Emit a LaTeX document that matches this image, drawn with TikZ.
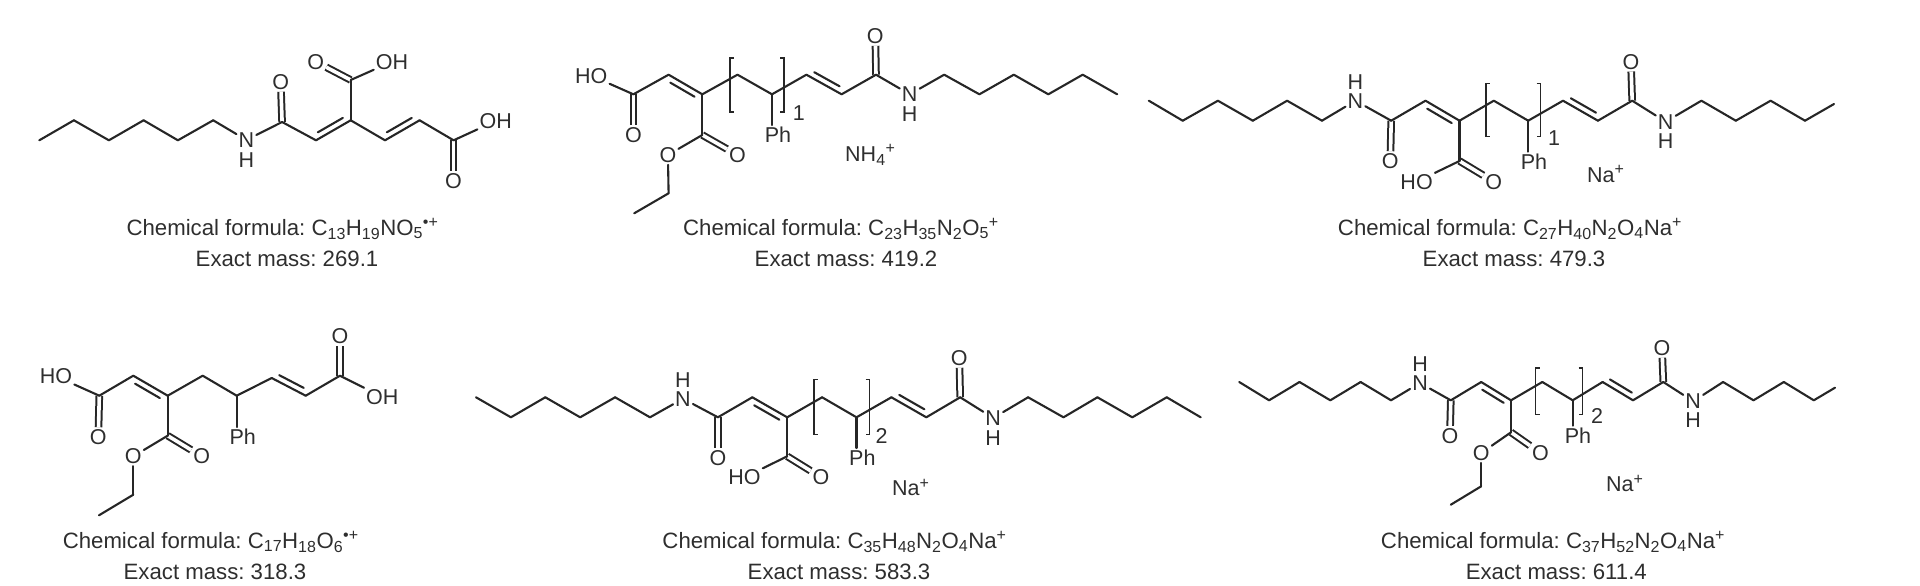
\documentclass[tikz,border=0pt]{standalone}
\usepackage{fontspec}
\setmainfont{Liberation Sans}
\usetikzlibrary{calc}
\frenchspacing
\definecolor{inkline}{HTML}{262626}
\definecolor{inktext}{HTML}{2E2E2E}
\tikzstyle{bond} = [line width=2.1pt, draw=inkline, line cap=round, line join=round]
\tikzstyle{carbonyl} = [line width=2pt, draw=inkline, double=white, double distance=3.6pt]
\tikzstyle{bracket} = [line width=1.5pt, draw=inkline]
\tikzstyle{atom} = [inner sep=2pt, text=inktext, font=\fontsize{21.5}{24}\selectfont]
\tikzstyle{caption} = [inner sep=0pt, anchor=base, text=inktext, font=\fontsize{22.2}{24}\selectfont]
\newcommand{\subnum}[1]{\textsubscript{\fontsize{16}{18}\selectfont #1}}
\newcommand{\supchg}[1]{\textsuperscript{\fontsize{16}{18}\selectfont #1}}
\newcommand{\ccbond}[3]{%
  \draw[bond] (#1) -- (#2);
  \draw[bond] ($(#1)!.14!(#2)!6pt!#3:(#2)$) -- ($(#2)!.14!(#1)!6pt!-#3:(#1)$);}
\newcommand{\unitbrackets}[4]{%
  \draw[bracket] (#1+4,#3) -- (#1,#3) -- (#1,#4) -- (#1+4,#4);
  \draw[bracket] (#2-4,#3) -- (#2,#3) -- (#2,#4) -- (#2-4,#4);}
\begin{document}
\begin{tikzpicture}[x=1pt,y=-1pt,node distance=20pt]
\useasboundingbox (0,0) rectangle (1920,586);

% top left
\path (39.3,140.3) coordinate (A1) (73.9,120.3) coordinate (A2) (108.9,140.3) coordinate (A3)
  (143.6,120.3) coordinate (A4) (177.9,140.3) coordinate (A5) (213.2,120.3) coordinate (A6)
  (282.1,122) coordinate (A7) (316,140.3) coordinate (A8) (350.7,120.3) coordinate (A9)
  (350.7,80) coordinate (A10) (385,140.3) coordinate (A11) (419.6,120.3) coordinate (A12)
  (453.6,140.3) coordinate (A13);
\node [atom] (AN) at (246.4,140) {N};
\node [atom, below of=AN] (AH) {H};
\node [atom] (AO1) at (280.7,82) {O};
\node [atom] (AO2) at (315.7,61.7) {O};
\node [atom] (AOH1) at (392,61.7) {OH};
\node [atom] (AOH2) at (495.7,121) {OH};
\node [atom] (AO3) at (453.6,181) {O};
\foreach \a/\b in {A7/AO1,A10/AO2,A13/AO3} \draw[carbonyl] (\a) -- (\b);
\foreach \a/\b in {A1/A2,A2/A3,A3/A4,A4/A5,A5/A6,A6/AN,AN/A7,A7/A8,A9/A10,A10/AOH1,A9/A11,A12/A13,A13/AOH2}
  \draw[bond] (\a) -- (\b);
\ccbond{A8}{A9}{90}
\ccbond{A11}{A12}{90}
\node [caption] (Af) at (282.5,235) {Chemical formula: C\subnum{13}H\subnum{19}NO\subnum{5}\supchg{\textbullet+}};
\node [caption] (Am) at (287,266.7) {Exact mass: 269.1};

% top middle
\path (633.4,94.3) coordinate (B1) (668.6,74.7) coordinate (B2) (702.3,94.3) coordinate (B3)
  (702.3,135) coordinate (B4) (668.6,193.3) coordinate (B5) (634.2,213.3) coordinate (B6)
  (737.5,74.7) coordinate (B7) (772,94.3) coordinate (B8) (806.4,74.7) coordinate (B9)
  (841.6,94.3) coordinate (B10) (876,74.7) coordinate (B11) (944.2,74.7) coordinate (B12)
  (979.4,94.3) coordinate (B13) (1013.8,74.7) coordinate (B14) (1048.3,94.3) coordinate (B15)
  (1082.7,74.7) coordinate (B16) (1117.2,94.3) coordinate (B17);
\node [atom] (BHO) at (591.3,75.7) {HO};
\node [atom] (BO1) at (633.4,135) {O};
\node [atom] (BO2) at (737.5,155) {O};
\node [atom] (BO3) at (667.9,155) {O};
\node [atom] (BPh) at (778,135) {Ph};
\node [atom] (BO4) at (875.3,36) {O};
\node [atom] (BN) at (909.7,94.3) {N};
\node [atom, below of=BN] (BH) {H};
\node [atom] (Bn) at (798.8,113) {1};
\node [atom, anchor=west] (Bion) at (843,155) {NH\subnum{4}\supchg{+}};
\foreach \a/\b in {B1/BO1,B4/BO2,B11/BO4} \draw[carbonyl] (\a) -- (\b);
\foreach \a/\b in {BHO/B1,B1/B2,B3/B4,B4/BO3,BO3/B5,B5/B6,B3/B7,B7/B8,B8/B9,B10/B11,B11/BN,BN/B12,B12/B13,B13/B14,B14/B15,B15/B16,B16/B17}
  \draw[bond] (\a) -- (\b);
\draw[bond] (B8) -- (B8 |- BPh.north);
\ccbond{B2}{B3}{-90}
\ccbond{B9}{B10}{90}
\unitbrackets{729.9}{784.2}{58}{112}
\node [caption] (Bf) at (841,235) {Chemical formula: C\subnum{23}H\subnum{35}N\subnum{2}O\subnum{5}\supchg{+}};
\node [caption] (Bm) at (846,266.7) {Exact mass: 419.2};

% top right
\path (1148.8,100.7) coordinate (C1) (1182.7,120.7) coordinate (C2) (1217.9,100.7) coordinate (C3)
  (1252.8,120.7) coordinate (C4) (1287.1,100.7) coordinate (C5) (1322,120.7) coordinate (C6)
  (1391.2,120.7) coordinate (C7) (1425.5,100.7) coordinate (C8) (1459.5,120.7) coordinate (C9)
  (1459.5,161) coordinate (C10) (1493.8,100.7) coordinate (C11) (1528.2,120.7) coordinate (C12)
  (1563,100.7) coordinate (C13) (1597.9,120.7) coordinate (C14) (1632.2,100.7) coordinate (C15)
  (1701.4,100.7) coordinate (C16) (1735.8,120.7) coordinate (C17) (1770.6,100.7) coordinate (C18)
  (1805,120.7) coordinate (C19) (1834,104) coordinate (C20);
\node [atom] (CN1) at (1355.4,100.7) {N};
\node [atom, node distance=19pt, above of=CN1] (CH1) {H};
\node [atom] (CO1) at (1390.3,161) {O};
\node [atom] (CO2) at (1493.8,181.7) {O};
\node [atom] (CHO) at (1416.6,181.7) {HO};
\node [atom] (CPh) at (1534,161.7) {Ph};
\node [atom] (CO3) at (1630.9,61.7) {O};
\node [atom] (CN2) at (1665.7,121.7) {N};
\node [atom, node distance=19pt, below of=CN2] (CH2) {H};
\node [atom] (Cn) at (1554,138) {1};
\node [atom, anchor=west] (Cion) at (1585,174) {Na\supchg{+}};
\foreach \a/\b in {C7/CO1,C10/CO2,C15/CO3} \draw[carbonyl] (\a) -- (\b);
\foreach \a/\b in {C1/C2,C2/C3,C3/C4,C4/C5,C5/C6,C6/CN1,CN1/C7,C7/C8,C9/C10,C10/CHO,C9/C11,C11/C12,C12/C13,C14/C15,C15/CN2,CN2/C16,C16/C17,C17/C18,C18/C19,C19/C20}
  \draw[bond] (\a) -- (\b);
\draw[bond] (C12) -- (C12 |- CPh.north);
\ccbond{C8}{C9}{-90}
\ccbond{C13}{C14}{90}
\unitbrackets{1485.8}{1540.7}{83.3}{136.7}
\node [caption] (Cf) at (1510,235) {Chemical formula: C\subnum{27}H\subnum{40}N\subnum{2}O\subnum{4}Na\supchg{+}};
\node [caption] (Cm) at (1514,266.7) {Exact mass: 479.3};

% bottom left
\path (99.3,395.7) coordinate (D1) (133.3,375.7) coordinate (D2) (167.7,395.7) coordinate (D3)
  (167.7,435.7) coordinate (D4) (133.3,494.7) coordinate (D5) (99,515.3) coordinate (D6)
  (202.7,375.7) coordinate (D7) (236.7,395.7) coordinate (D8) (271.7,378) coordinate (D9)
  (305.7,395.7) coordinate (D10) (340,375.7) coordinate (D11);
\node [atom] (DHO) at (56,376.3) {HO};
\node [atom] (DO1) at (98.3,437) {O};
\node [atom] (DO2) at (201.7,456.3) {O};
\node [atom] (DO3) at (133.3,456.3) {O};
\node [atom] (DPh) at (242.7,437) {Ph};
\node [atom] (DO4) at (340,336.3) {O};
\node [atom] (DOH) at (382.3,397) {OH};
\foreach \a/\b in {D1/DO1,D4/DO2,D11/DO4} \draw[carbonyl] (\a) -- (\b);
\foreach \a/\b in {DHO/D1,D1/D2,D3/D4,D4/DO3,DO3/D5,D5/D6,D3/D7,D7/D8,D8/D9,D10/D11,D11/DOH}
  \draw[bond] (\a) -- (\b);
\draw[bond] (D8) -- (D8 |- DPh.north);
\ccbond{D2}{D3}{-90}
\ccbond{D9}{D10}{90}
\node [caption] (Df) at (210.7,548) {Chemical formula: C\subnum{17}H\subnum{18}O\subnum{6}\supchg{\textbullet+}};
\node [caption] (Dm) at (215,579.7) {Exact mass: 318.3};

% bottom middle
\path (476,397.3) coordinate (E1) (510.9,417.3) coordinate (E2) (545.3,397.3) coordinate (E3)
  (580.2,417.3) coordinate (E4) (615.1,397.3) coordinate (E5) (650,417.3) coordinate (E6)
  (717.9,417.3) coordinate (E7) (752.3,397.3) coordinate (E8) (787.2,417.3) coordinate (E9)
  (787.2,456.3) coordinate (E10) (822.1,397.3) coordinate (E11) (856.5,417.3) coordinate (E12)
  (891.4,397.3) coordinate (E13) (926.3,417.3) coordinate (E14) (960.2,397.3) coordinate (E15)
  (1028.1,397.3) coordinate (E16) (1063.5,417.3) coordinate (E17) (1097.4,397.3) coordinate (E18)
  (1132.3,417.3) coordinate (E19) (1166.7,397.3) coordinate (E20) (1200.7,417.3) coordinate (E21);
\node [atom] (EN1) at (683,398.7) {N};
\node [atom, node distance=18.5pt, above of=EN1] (EH1) {H};
\node [atom] (EO1) at (717.9,458) {O};
\node [atom] (EO2) at (821.1,477.3) {O};
\node [atom] (EHO) at (744.5,477.3) {HO};
\node [atom] (EPh) at (862.3,458) {Ph};
\node [atom] (EO3) at (959.3,358) {O};
\node [atom] (EN2) at (993.2,418) {N};
\node [atom, below of=EN2] (EH2) {H};
\node [atom] (En) at (881.7,435.7) {2};
\node [atom, anchor=west] (Eion) at (890,487.3) {Na\supchg{+}};
\foreach \a/\b in {E7/EO1,E10/EO2,E15/EO3} \draw[carbonyl] (\a) -- (\b);
\foreach \a/\b in {E1/E2,E2/E3,E3/E4,E4/E5,E5/E6,E6/EN1,EN1/E7,E7/E8,E9/E10,E10/EHO,E9/E11,E11/E12,E12/E13,E14/E15,E15/EN2,EN2/E16,E16/E17,E17/E18,E18/E19,E19/E20,E20/E21}
  \draw[bond] (\a) -- (\b);
\draw[bond] (E12) -- (E12 |- EPh.north);
\ccbond{E8}{E9}{-90}
\ccbond{E13}{E14}{90}
\unitbrackets{813.9}{869.6}{379.7}{434.7}
\node [caption] (Ef) at (834.5,548) {Chemical formula: C\subnum{35}H\subnum{48}N\subnum{2}O\subnum{4}Na\supchg{+}};
\node [caption] (Em) at (839,579.7) {Exact mass: 583.3};

% bottom right
\path (1239.2,382) coordinate (F1) (1269.1,400.3) coordinate (F2) (1299.5,382) coordinate (F3)
  (1330.3,400.3) coordinate (F4) (1360.6,382) coordinate (F5) (1391,400.3) coordinate (F6)
  (1450.8,400.3) coordinate (F7) (1481.2,382) coordinate (F8) (1511,400.3) coordinate (F9)
  (1511,432.3) coordinate (F10) (1481.2,486.3) coordinate (F11) (1450.8,504.7) coordinate (F12)
  (1542.3,382) coordinate (F13) (1572.7,400.3) coordinate (F14) (1602.6,382) coordinate (F15)
  (1633,400.3) coordinate (F16) (1663.3,382) coordinate (F17) (1723.1,382) coordinate (F18)
  (1753.5,400.3) coordinate (F19) (1783.8,382) coordinate (F20) (1813.8,400.3) coordinate (F21)
  (1835,387.7) coordinate (F22);
\node [atom] (FN1) at (1420,383) {N};
\node [atom, node distance=19pt, above of=FN1] (FH1) {H};
\node [atom] (FO1) at (1449.9,435.7) {O};
\node [atom] (FO2) at (1540.5,453) {O};
\node [atom] (FO3) at (1481.2,453) {O};
\node [atom] (FPh) at (1578,435.7) {Ph};
\node [atom] (FO4) at (1662,348) {O};
\node [atom] (FN2) at (1693.2,401.3) {N};
\node [atom, node distance=19pt, below of=FN2] (FH2) {H};
\node [atom] (Fn) at (1597.2,416.3) {2};
\node [atom, anchor=west] (Fion) at (1604,483.7) {Na\supchg{+}};
\foreach \a/\b in {F7/FO1,F10/FO2,F17/FO4} \draw[carbonyl] (\a) -- (\b);
\foreach \a/\b in {F1/F2,F2/F3,F3/F4,F4/F5,F5/F6,F6/FN1,FN1/F7,F7/F8,F9/F10,F10/FO3,FO3/F11,F11/F12,F9/F13,F13/F14,F14/F15,F16/F17,F17/FN2,FN2/F18,F18/F19,F19/F20,F20/F21,F21/F22}
  \draw[bond] (\a) -- (\b);
\draw[bond] (F14) -- (F14 |- FPh.north);
\ccbond{F8}{F9}{-90}
\ccbond{F15}{F16}{90}
\unitbrackets{1535.6}{1582.5}{368}{414.7}
\node [caption] (Ff) at (1553,548) {Chemical formula: C\subnum{37}H\subnum{52}N\subnum{2}O\subnum{4}Na\supchg{+}};
\node [caption] (Fm) at (1556.3,579.7) {Exact mass: 611.4};

\end{tikzpicture}
\end{document}
